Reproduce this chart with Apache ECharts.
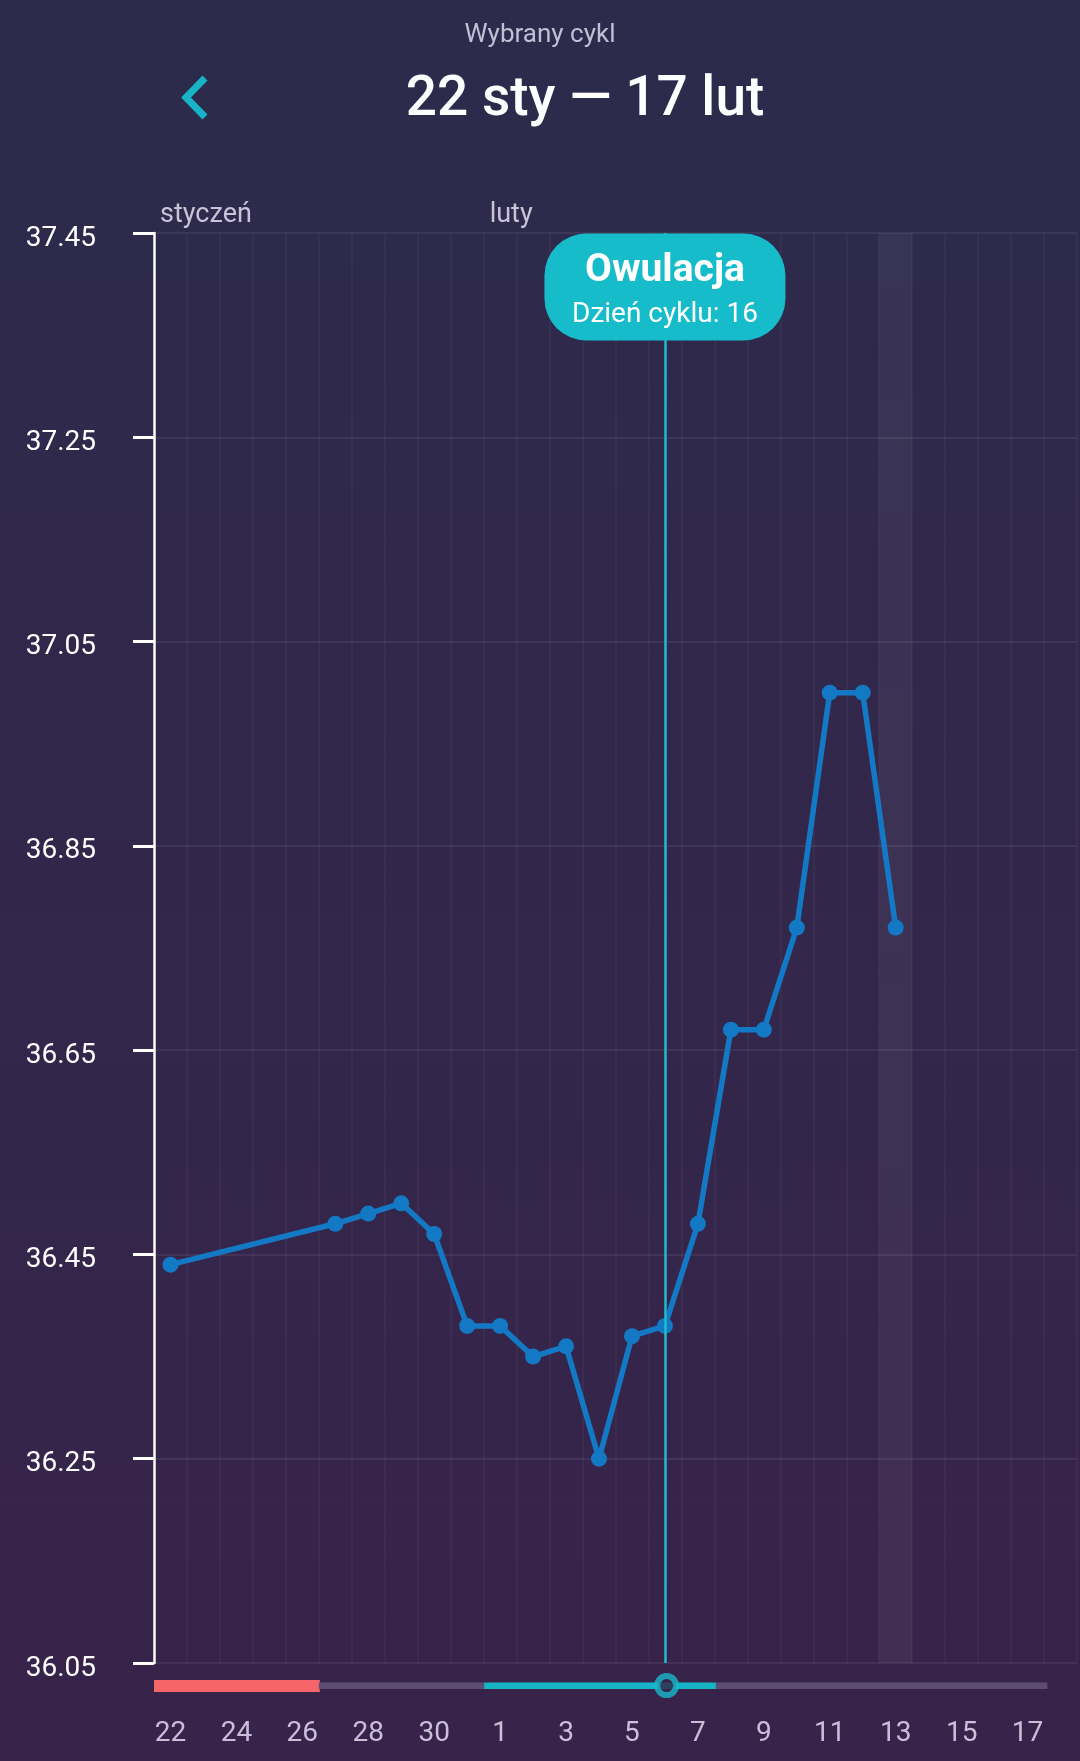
<!DOCTYPE html>
<html>
<head>
<meta charset="utf-8">
<script src="https://cdn.jsdelivr.net/npm/echarts@6/dist/echarts.min.js"></script>
<style>
html,body{margin:0;padding:0;width:1080px;height:1761px;overflow:hidden;background:#322748;}
#c{width:1080px;height:1761px;}
</style>
</head>
<body>
<div id="c"></div>
<script>
// ---- data ----
var days = ['22','23','24','25','26','27','28','29','30','31','1','2','3','4','5','6','7','8','9','10','11','12','13','14','15','16','17','18'];
var temps = [36.44,null,null,null,null,36.48,36.49,36.50,36.47,36.38,36.38,36.35,36.36,36.25,36.37,36.38,36.48,36.67,36.67,36.77,37.00,37.00,36.77,null,null,null,null,null];
var phases = ['period','period','period','period','period','none','none','none','none','none','fertile','fertile','fertile','fertile','fertile','fertile','fertile','none','none','none','none','none','none','none','none','none','none',null];
var monthLabels = ['styczeń','luty'];
var monthStartIdx = [0, 10];
var ovulationIdx = 15;
var ovulationTitle = 'Owulacja';
var ovulationSub = 'Dzień cyklu: 16';
var todayIdx = 22;
var yTicks = [36.05, 36.25, 36.45, 36.65, 36.85, 37.05, 37.25, 37.45];
var headerSub = 'Wybrany cykl';
var headerTitle = '22 sty — 17 lut';

// ---- build ----
var yMin = yTicks[0], yMax = yTicks[yTicks.length-1];
var topCats = days.concat(['']);
var topLabels = topCats.map(function(d,i){ var k = monthStartIdx.indexOf(i); return k>=0 ? monthLabels[k] : ''; });
var todayBand = days.map(function(d,i){ return i===todayIdx ? yMax : null; });
var phaseColor = {period:'#f4666a', fertile:'#17b4c8', none:'#5d4d74'};
var phaseOffset = phases.map(function(p){ return p==null?null:(p==='period'?0:3); });
var phaseBar = phases.map(function(p){ return p==null?null:{value:(p==='period'?12:6.5), itemStyle:{color:phaseColor[p]}}; });
var ovuDot = days.map(function(d,i){ return i===ovulationIdx ? 6.4 : null; });

var chart = echarts.init(document.getElementById('c'), null, {renderer:'canvas'});
var font = 'Roboto';
chart.setOption({
  backgroundColor: new echarts.graphic.LinearGradient(0,0,0,1,[{offset:0,color:'#2c2b4c'},{offset:1,color:'#38234a'}]),
  animation:false,
  textStyle:{fontFamily:font},
  graphic:[
    {type:'text', x:540, y:35, style:{text:headerSub, fill:'#c2bed3', font:'400 26px Roboto', align:'center', verticalAlign:'middle'}},
    {type:'text', x:585, y:101, style:{text:headerTitle, fill:'#ffffff', font:'500 55px Roboto', align:'center', verticalAlign:'middle'}},
    {type:'polyline', shape:{points:[[205,78],[186,97.5],[205,117]]}, style:{stroke:'#17b4c8', lineWidth:7, fill:null, lineJoin:'miter'}}
  ],
  grid:[
    {left:154, right:0, top:233, height:1430, containLabel:false},
    {left:154, right:0, top:1680, height:12, containLabel:false}
  ],
  xAxis:[
    {type:'category', gridIndex:0, data:days, boundaryGap:true, position:'bottom',
      axisLine:{show:false}, axisTick:{show:false},
      axisLabel:{interval:1, color:'#c9bfd9', fontSize:28, fontFamily:font, margin:57},
      splitLine:{show:true, interval:0, lineStyle:{color:'rgba(255,255,255,0.05)', width:1.5}}},
    {type:'category', gridIndex:0, data:topCats, boundaryGap:false, position:'top',
      axisLine:{show:false}, axisTick:{show:false}, splitLine:{show:false},
      axisLabel:{interval:0, align:'left', padding:[0,0,0,6], margin:4, color:'#c8c4d8', fontSize:27, fontFamily:font,
        formatter:function(v,i){ return topLabels[i]; }}},
    {type:'category', gridIndex:1, data:days, boundaryGap:true, show:false}
  ],
  yAxis:[
    {type:'value', gridIndex:0, min:yMin, max:yMax, interval:0.2,
      axisLine:{show:true, lineStyle:{color:'#ffffff', width:2.5}},
      axisTick:{show:true, length:21, lineStyle:{color:'#ffffff', width:3}},
      axisLabel:{margin:58, formatter:function(v){return '{v|'+v.toFixed(2)+'}';},
        rich:{v:{color:'#ffffff', fontSize:28, fontFamily:font, padding:[11,0,0,0]}}},
      splitLine:{show:true, lineStyle:{color:'rgba(255,255,255,0.09)', width:1.5}}},
    {type:'value', gridIndex:1, min:0, max:12, show:false}
  ],
  series:[
    {type:'bar', xAxisIndex:0, yAxisIndex:0, data:todayBand, barWidth:'100%', z:0, silent:true,
      itemStyle:{color:'rgba(255,255,255,0.05)'},
      markLine:{silent:true, symbol:'none', label:{show:false},
        lineStyle:{color:'#1fbdcc', width:2.5, type:'solid'},
        data:[{xAxis:ovulationIdx}]}},
    {type:'line', xAxisIndex:0, yAxisIndex:0, data:temps, connectNulls:true, z:3,
      symbol:'circle', symbolSize:16, showSymbol:true,
      lineStyle:{color:'#1479c4', width:5.5}, itemStyle:{color:'#1479c4'}},
    {type:'line', xAxisIndex:0, yAxisIndex:0, data:[], z:6,
      markPoint:{silent:true, symbol:'circle', symbolSize:1, itemStyle:{color:'rgba(0,0,0,0)'},
        data:[{coord:[ovulationIdx, yMax],
          label:{show:true, position:'bottom', distance:0,
            formatter:'{a|'+ovulationTitle+'}\n{b|'+ovulationSub+'}',
            backgroundColor:'#17bccb', borderRadius:42, width:241, height:86,
            padding:[16,0,5,0], align:'center',
            rich:{
              a:{color:'#ffffff', fontSize:39, fontWeight:'bold', fontFamily:font, lineHeight:44, align:'center', width:241},
              b:{color:'#ffffff', fontSize:28, fontFamily:font, lineHeight:42, align:'center', width:241}
            }}}]}},
    {type:'bar', xAxisIndex:2, yAxisIndex:1, stack:'ph', data:phaseOffset, barWidth:34, silent:true,
      itemStyle:{color:'rgba(0,0,0,0)'}},
    {type:'bar', xAxisIndex:2, yAxisIndex:1, stack:'ph', data:phaseBar, barWidth:34, silent:true},
    {type:'scatter', xAxisIndex:2, yAxisIndex:1, data:ovuDot, symbol:'circle', symbolSize:19, z:5, silent:true,
      itemStyle:{color:'#34244a', borderColor:'#19b8ca', borderWidth:6}}
  ]
});
</script>
</body>
</html>
